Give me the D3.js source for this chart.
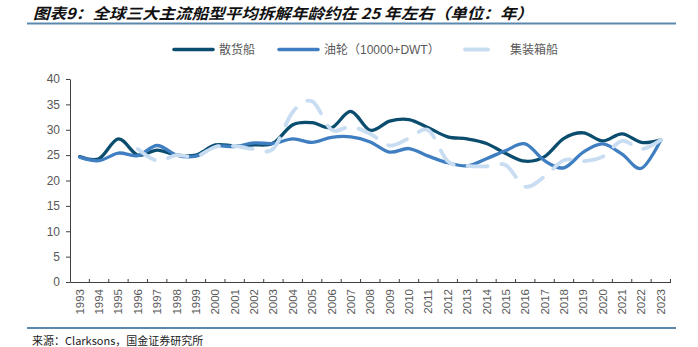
<!DOCTYPE html>
<html>
<head>
<meta charset="utf-8">
<script src="https://cdn.jsdelivr.net/npm/d3@7"></script>
<style>
html,body{margin:0;padding:0;background:#fff;}
svg{display:block;}
</style>
</head>
<body>
<svg id="chart" width="698" height="347"></svg>
<script>
const years = d3.range(1993, 2024).map(String);
const seriesNames = ["散货船", "油轮（10000+DWT）", "集装箱船"];
const bulk = [24.7,24.3,28.2,25.0,26.0,25.0,25.0,27.0,26.8,27.0,27.4,31.0,31.4,30.4,33.6,29.9,31.7,32.0,30.4,28.6,28.2,27.3,25.3,23.8,24.7,28.3,29.4,27.8,29.2,27.5,28.0];
const tanker = [24.6,23.9,25.4,24.9,26.9,25.0,24.8,26.7,26.7,27.4,27.3,28.2,27.5,28.5,28.6,27.6,25.6,26.3,24.8,23.5,22.9,24.3,25.9,27.2,23.9,22.5,25.6,27.2,25.2,22.4,28.0];
const container = [null,null,null,26.2,23.9,25.0,24.7,26.6,26.8,26.2,26.3,33.5,35.6,30.0,30.6,29.2,26.9,28.3,29.9,23.8,22.9,22.8,23.0,18.8,20.8,24.0,23.8,24.7,27.8,26.2,28.0];
const yTicks = [0,5,10,15,20,25,30,35,40];
const titleText = "图表9：全球三大主流船型平均拆解年龄约在 25 年左右（单位：年）";
const sourceText = "来源：Clarksons，国金证券研究所";

const colors = ["#0b4d6e", "#3f7fc1", "#c8ddf1"];
const svg = d3.select("#chart");
const plotLeft = 70, plotRight = 670.5, plotTop = 79, plotBottom = 282;

const x = d3.scaleBand().domain(years).range([plotLeft, plotRight]).padding(0);
const y = d3.scaleLinear().domain([0, 40]).range([plotBottom, plotTop]);
const cx = d => x(d) + x.bandwidth() / 2;

// title
svg.append("text")
  .attr("x", 33).attr("y", 18.5)
  .attr("font-family", "'Noto Sans CJK SC', sans-serif")
  .attr("font-weight", "bold").attr("font-style", "italic")
  .attr("font-size", 15).attr("fill", "#111")
  .attr("textLength", 500).attr("lengthAdjust", "spacingAndGlyphs")
  .text(titleText);
svg.append("line").attr("x1", 27).attr("x2", 676).attr("y1", 23.5).attr("y2", 23.5)
  .attr("stroke", "#5b89ad").attr("stroke-width", 2);

// bottom rule and source
svg.append("line").attr("x1", 27).attr("x2", 676).attr("y1", 328).attr("y2", 328)
  .attr("stroke", "#5b89ad").attr("stroke-width", 2);
svg.append("text")
  .attr("x", 32).attr("y", 345)
  .attr("font-family", "'Noto Sans CJK SC', sans-serif")
  .attr("font-size", 11).attr("fill", "#222")
  .text(sourceText);

// y axis
const yAxis = svg.append("g").attr("transform", `translate(${plotLeft},0)`)
  .call(d3.axisLeft(y).tickValues(yTicks).tickSize(4).tickPadding(6).tickSizeOuter(0));
yAxis.select(".domain").attr("stroke", "#404040");
yAxis.selectAll(".tick line").attr("stroke", "#404040");
yAxis.selectAll("text").attr("font-family", "'Liberation Sans', Arial, sans-serif")
  .attr("font-size", 12).attr("fill", "#595959");

// x axis
const xAxis = svg.append("g").attr("transform", `translate(0,${plotBottom})`)
  .call(d3.axisBottom(x).tickSize(0).tickPadding(0).tickSizeOuter(0));
xAxis.select(".domain").attr("stroke", "#404040");
xAxis.selectAll(".tick text")
  .attr("font-family", "'Liberation Sans', Arial, sans-serif")
  .attr("font-size", 11.5).attr("fill", "#595959")
  .attr("text-anchor", "end")
  .attr("transform", "translate(0,7) rotate(-90)")
  .attr("x", 0).attr("y", 0).attr("dy", "0.35em");
// tick marks at category boundaries
const edges = years.slice(1).map(d => x(d)).concat([plotRight]);
xAxis.selectAll(".edge").data(edges).enter().append("line")
  .attr("class", "edge")
  .attr("x1", d => d).attr("x2", d => d).attr("y1", 0).attr("y2", -3)
  .attr("stroke", "#404040");

// lines
const line = d3.line()
  .defined(d => d.v != null)
  .x(d => cx(d.year)).y(d => y(d.v))
  .curve(d3.curveCardinal.tension(0));
const allSeries = [bulk, tanker, container];
allSeries.forEach((vals, i) => {
  const data = years.map((yr, j) => ({year: yr, v: vals[j]}));
  const p = svg.append("path").datum(data)
    .attr("fill", "none").attr("stroke", colors[i])
    .attr("stroke-width", i === 2 ? 3.8 : 3.3)
    .attr("stroke-linecap", "round").attr("stroke-linejoin", "round")
    .attr("d", line);
  if (i === 2) p.attr("stroke-dasharray", "20,14");
});

// legend
const legendItems = [
  {x1: 174, x2: 213, tx: 219},
  {x1: 279, x2: 318, tx: 324},
  {x1: 465, x2: 488, tx: 510}
];
legendItems.forEach((it, i) => {
  svg.append("line").attr("x1", it.x1).attr("x2", it.x2).attr("y1", 49.5).attr("y2", 49.5)
    .attr("stroke", colors[i]).attr("stroke-width", i === 2 ? 3.8 : 3.5)
    .attr("stroke-linecap", "round");
  svg.append("text").attr("x", it.tx).attr("y", 49.5).attr("dy", "0.35em")
    .attr("font-family", "'Liberation Sans', 'Noto Sans CJK SC', sans-serif")
    .attr("font-size", 12).attr("fill", "#595959")
    .text(seriesNames[i]);
});
</script>
</body>
</html>
